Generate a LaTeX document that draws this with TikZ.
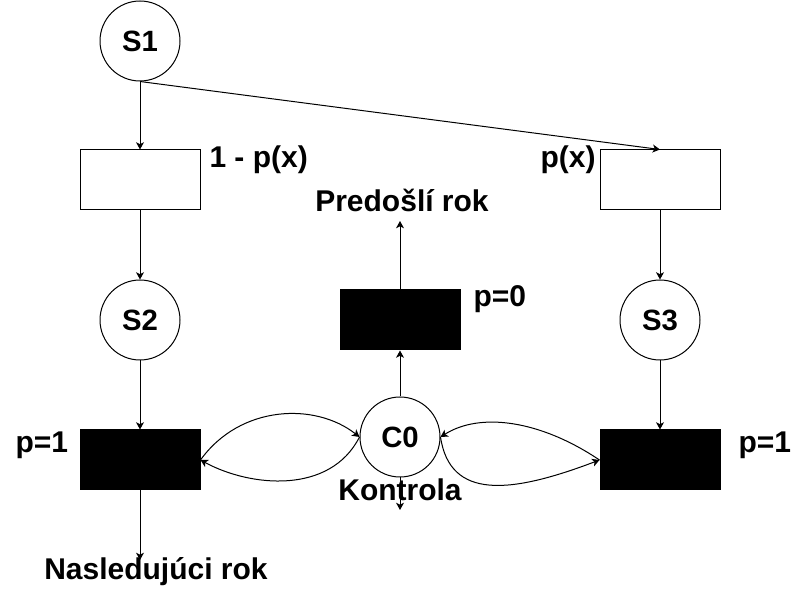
\documentclass[tikz,border=0pt]{standalone}
\usepackage{fontspec}
\setmainfont{Liberation Sans}
\usetikzlibrary{arrows.meta}
\tikzset{every picture/.style={line width=0.75pt}}
\tikzset{
  place/.style={circle,draw,fill=white,minimum size=60pt,inner sep=0pt,font=\bfseries\fontsize{22}{26}\selectfont},
  trans/.style={rectangle,draw,fill=white,minimum width=90pt,minimum height=45pt,inner sep=0pt},
  blacktrans/.style={trans,fill=black},
  lbl/.style={inner sep=0.75pt,font=\bfseries\fontsize{22.5}{27}\selectfont},
  arc/.style={-{Stealth[length=5.5pt,width=6pt,inset=1.5pt]}}
}

\begin{document}
\begin{tikzpicture}[x=0.75pt,y=0.75pt,yscale=-1,xscale=1]
\useasboundingbox (0,0) rectangle (800,598);

%Shape: Circle [id:s1]
\draw (140,41) node [place] (s1) {S1};
%Shape: Rectangle [id:t1]
\draw (140,180) node [trans] (t1) {};
%Shape: Rectangle [id:t2]
\draw (660,180) node [trans] (t2) {};
%Shape: Circle [id:s2]
\draw (140,320) node [place] (s2) {S2};
%Shape: Circle [id:s3]
\draw (660,320) node [place] (s3) {S3};
%Shape: Rectangle [id:tp]
\draw (400,320) node [blacktrans] (tp) {};
%Shape: Circle [id:c0]
\draw (400,437) node [place] (c0) {C0};
%Shape: Rectangle [id:tl]
\draw (140,460) node [blacktrans] (tl) {};
%Shape: Rectangle [id:tr]
\draw (660,460) node [blacktrans] (tr) {};

%free ends
\coordinate (pr) at (400,221);
\coordinate (kt) at (400,510);
\coordinate (nx) at (140,560);

%Straight Lines
\draw [arc] (s1.south) -- (t1.north);
\draw [arc] (s1.south) -- (t2.north);
\draw [arc] (t1.south) -- (s2.north);
\draw [arc] (t2.south) -- (s3.north);
\draw [arc] (s2.south) -- (tl.north);
\draw [arc] (s3.south) -- (tr.north);
\draw [arc] (c0.north) -- (tp.south);
\draw [arc] (tp.north) -- (pr);
\draw [arc] (c0.south) -- (kt);
\draw [arc] (tl.south) -- (nx);

%Curve Lines
\draw [arc] (tl.east) .. controls (240,405) and (315,402) .. (c0.west);
\draw [arc] (c0.west) .. controls (330,495) and (250,487) .. (tl.east);
\draw [arc] (tr.west) .. controls (540,420) and (480,412) .. (c0.east);
\draw [arc] (c0.east) .. controls (450,500) and (510,494) .. (tr.west);

% Text Node
\draw (208,168) node [lbl,anchor=base west] (lt1) {1 - p(x)};
% Text Node
\draw (597,168) node [lbl,anchor=base east] (lt2) {p(x)};
% Text Node
\draw (402,212) node [lbl,anchor=base] (lpr) {Predošlí rok};
% Text Node
\draw (472,307) node [lbl,anchor=base west] (ltp) {p=0};
% Text Node
\draw (14,453) node [lbl,anchor=base west] (ltl) {p=1};
% Text Node
\draw (737,453) node [lbl,anchor=base west] (ltr) {p=1};
% Text Node
\draw (400,501) node [lbl,anchor=base] (lkt) {Kontrola};
% Text Node
\draw (156,580) node [lbl,anchor=base] (lnx) {Nasledujúci rok};

\end{tikzpicture}
\end{document}
